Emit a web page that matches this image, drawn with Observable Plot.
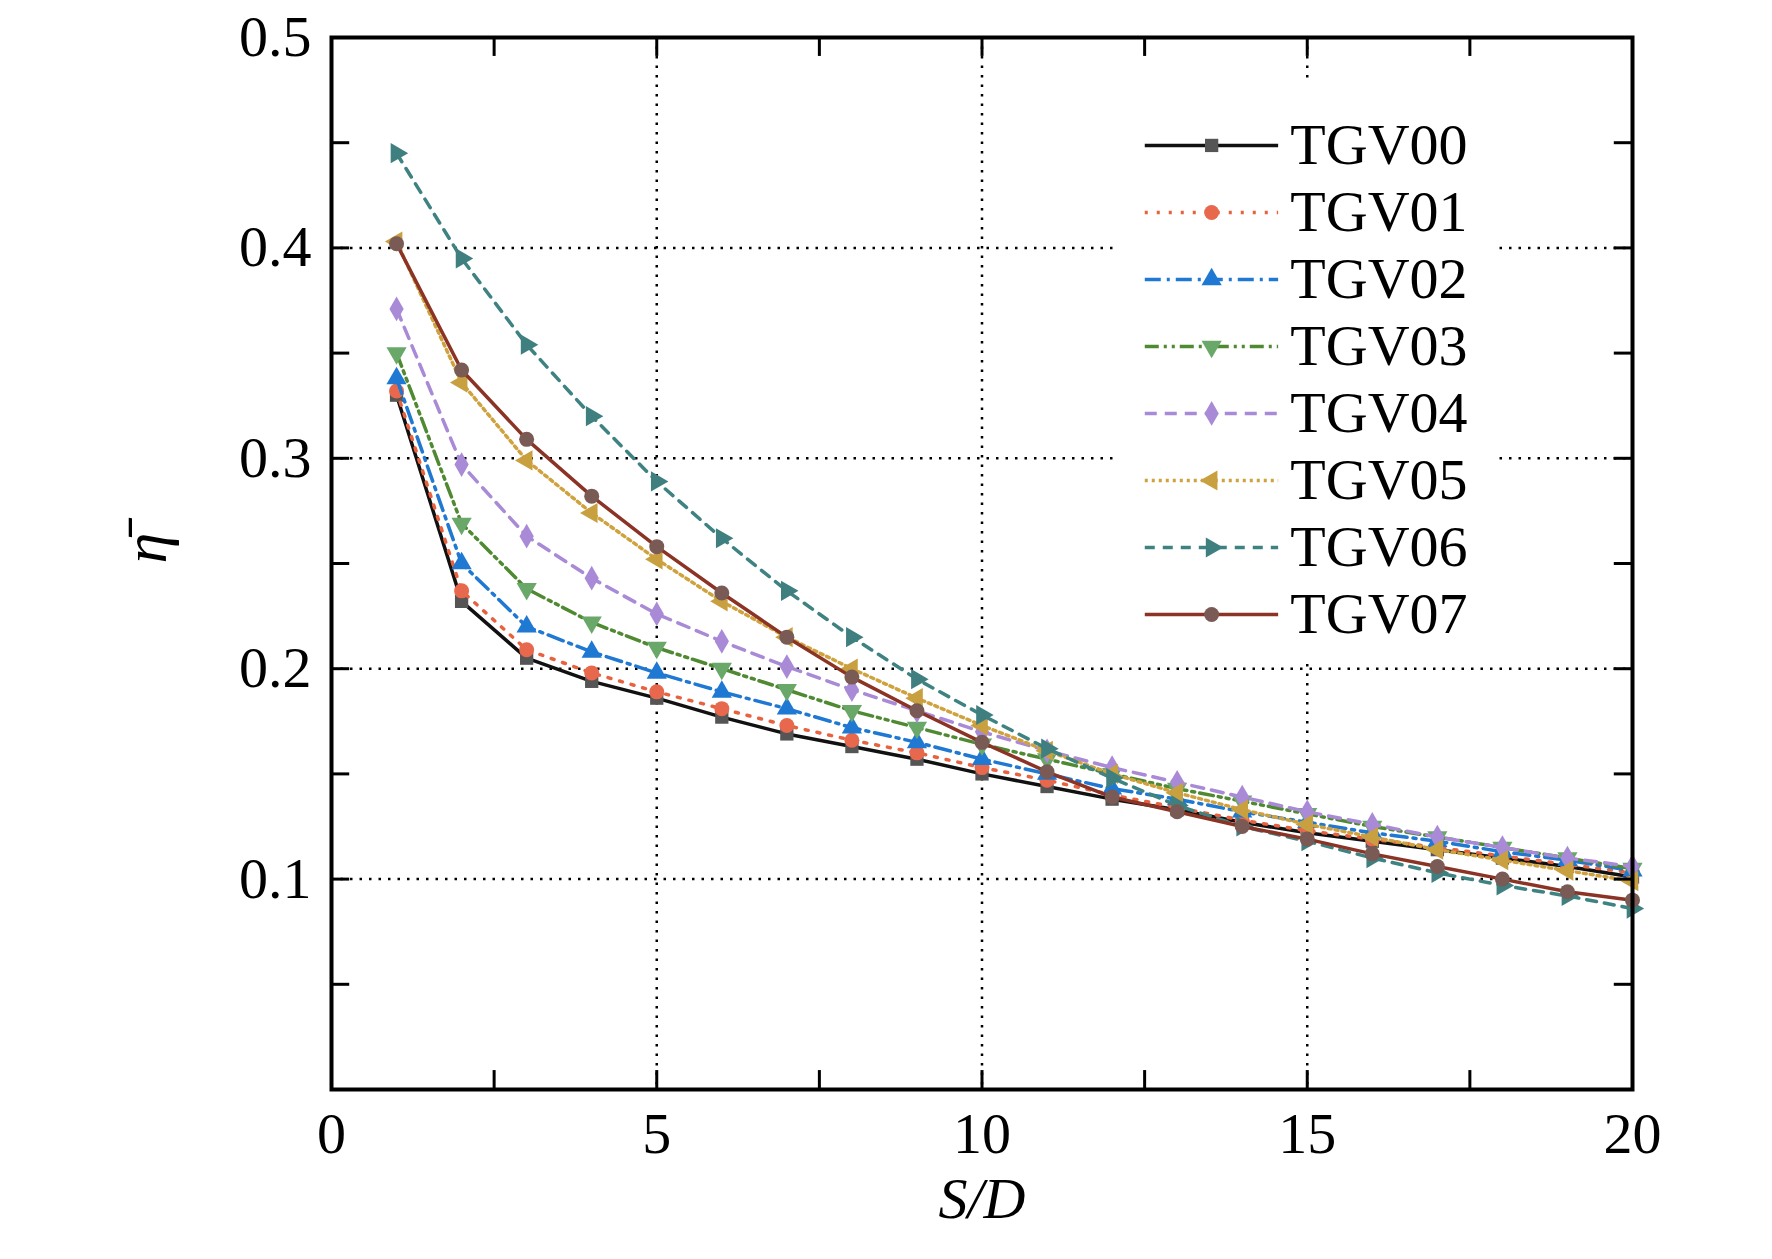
<!DOCTYPE html>
<html><head><meta charset="utf-8">
<script src="https://cdn.jsdelivr.net/npm/d3@7"></script>
<script src="https://cdn.jsdelivr.net/npm/@observablehq/plot@0.6"></script>
<style>body{margin:0;background:#fff}</style>
</head><body><div id="c"></div>
<script>
const xs = d3.range(1,21);
const names = ["TGV00","TGV01","TGV02","TGV03","TGV04","TGV05","TGV06","TGV07"];
const TGV00 = [0.330,0.232,0.205,0.194,0.186,0.177,0.169,0.163,0.157,0.150,0.144,0.138,0.133,0.127,0.122,0.118,0.114,0.110,0.106,0.101];
const TGV01 = [0.332,0.237,0.209,0.198,0.189,0.181,0.173,0.166,0.160,0.153,0.147,0.140,0.134,0.128,0.123,0.119,0.115,0.111,0.107,0.103];
const TGV02 = [0.338,0.250,0.220,0.208,0.198,0.189,0.181,0.172,0.165,0.157,0.150,0.143,0.138,0.132,0.127,0.122,0.118,0.113,0.109,0.104];
const TGV03 = [0.350,0.269,0.238,0.222,0.210,0.200,0.190,0.180,0.172,0.164,0.157,0.150,0.143,0.137,0.131,0.125,0.120,0.115,0.110,0.105];
const TGV04 = [0.371,0.297,0.263,0.243,0.226,0.213,0.201,0.190,0.180,0.170,0.161,0.153,0.146,0.139,0.132,0.126,0.120,0.115,0.110,0.106];
const TGV05 = [0.403,0.336,0.299,0.274,0.252,0.232,0.215,0.200,0.186,0.173,0.161,0.150,0.141,0.133,0.126,0.120,0.114,0.109,0.104,0.099];
const TGV06 = [0.445,0.395,0.354,0.320,0.289,0.262,0.237,0.215,0.195,0.178,0.162,0.148,0.135,0.125,0.118,0.110,0.103,0.097,0.092,0.086];
const TGV07 = [0.402,0.342,0.309,0.282,0.258,0.236,0.215,0.196,0.180,0.165,0.151,0.139,0.132,0.125,0.119,0.112,0.106,0.100,0.094,0.090];
const seriesVals = [TGV00,TGV01,TGV02,TGV03,TGV04,TGV05,TGV06,TGV07];
const lineColors = ["#111111","#e8623f","#1f78d1","#4f8a33","#a98ad6","#cfa23e","#3f8282","#8b3324"];
const markColors = ["#555555","#e8684e","#1f78d1","#6aa86a","#a98ad6","#c9a040","#3f7f80","#7a5a55"];
const dashes = [null,"3,9","16,6,3,6","14,5,3,5,3,5","12,8","3,4","10,8",null];
const symbols = ["square","circle","triangle","triangle","diamond","triangle","triangle","circle"];
const rotates = [0,0,0,180,0,-90,90,0];
const xTicks = [0,5,10,15,20];
const yTicks = [0.1,0.2,0.3,0.4,0.5];
const xMinor = d3.range(0,20.01,2.5);
const yMinor = d3.range(0.05,0.5,0.05);

const rows = [];
names.forEach((n,i)=>seriesVals[i].forEach((v,j)=>rows.push({s:n,i,x:xs[j],y:v})));
const legY = names.map((n,i)=>({s:n,i,y:0.4487-0.03185*i}));
const F = "Liberation Serif";
const marks = [
  Plot.ruleX([5,10,15],{stroke:"#000",strokeWidth:2.5,strokeDasharray:"2.5,7"}),
  Plot.ruleY([0.1,0.2,0.3,0.4],{stroke:"#000",strokeWidth:2.5,strokeDasharray:"2.5,7"}),
  Plot.rect([{}],{x1:12.1,x2:17.9,y1:0.205,y2:0.48,fill:"white"}),
];
names.forEach((n,i)=>{
  const d = rows.filter(r=>r.i===i);
  marks.push(Plot.line(d,{x:"x",y:"y",stroke:lineColors[i],strokeWidth:3.5,strokeDasharray:dashes[i]}));
  marks.push(Plot.dot(d,{x:"x",y:"y",symbol:()=>symbols[i],rotate:rotates[i],fill:markColors[i],r:7.5}));
  const l = [legY[i]];
  marks.push(Plot.ruleY(l,{x1:12.51,x2:14.56,y:"y",stroke:lineColors[i],strokeWidth:3.5,strokeDasharray:dashes[i]}));
  marks.push(Plot.dot(l,{x:13.53,y:"y",symbol:()=>symbols[i],rotate:rotates[i],fill:markColors[i],r:7.5}));
  marks.push(Plot.text(l,{x:14.74,y:"y",text:"s",textAnchor:"start",fontSize:58,fill:"#000",fontFamily:F}));
});
marks.push(
  Plot.ruleX(xMinor,{y1:0,y2:0.009,stroke:"#000",strokeWidth:3}),
  Plot.ruleX(xMinor,{y1:0.5,y2:0.491,stroke:"#000",strokeWidth:3}),
  Plot.ruleY(yMinor,{x1:0,x2:0.28,stroke:"#000",strokeWidth:3}),
  Plot.ruleY(yMinor,{x1:20,x2:19.72,stroke:"#000",strokeWidth:3}),
  Plot.frame({stroke:"#000",strokeWidth:4}),
  Plot.axisX(xTicks,{tickSize:0,tickPadding:22,fontSize:58,fontFamily:F,label:null}),
  Plot.axisY(yTicks,{tickSize:0,tickPadding:20,fontSize:58,fontFamily:F,label:null,tickFormat:d3.format(".1f")}),
  Plot.text(["S/D"],{frameAnchor:"bottom",dy:128,text:d=>d,fontSize:58,fontStyle:"italic",fontFamily:F}),
  Plot.text(["η̄"],{frameAnchor:"left",dx:-185,text:d=>d,rotate:-90,fontSize:62,fontStyle:"italic",fontFamily:F})
);
const chart = Plot.plot({
  width:1772,height:1259,marginLeft:331,marginRight:140,marginTop:37,marginBottom:170,
  x:{domain:[0,20]},y:{domain:[0,0.5]},
  style:{fontFamily:F,background:"#fff",overflow:"visible"},
  marks
});
document.getElementById("c").append(chart);
</script></body></html>
